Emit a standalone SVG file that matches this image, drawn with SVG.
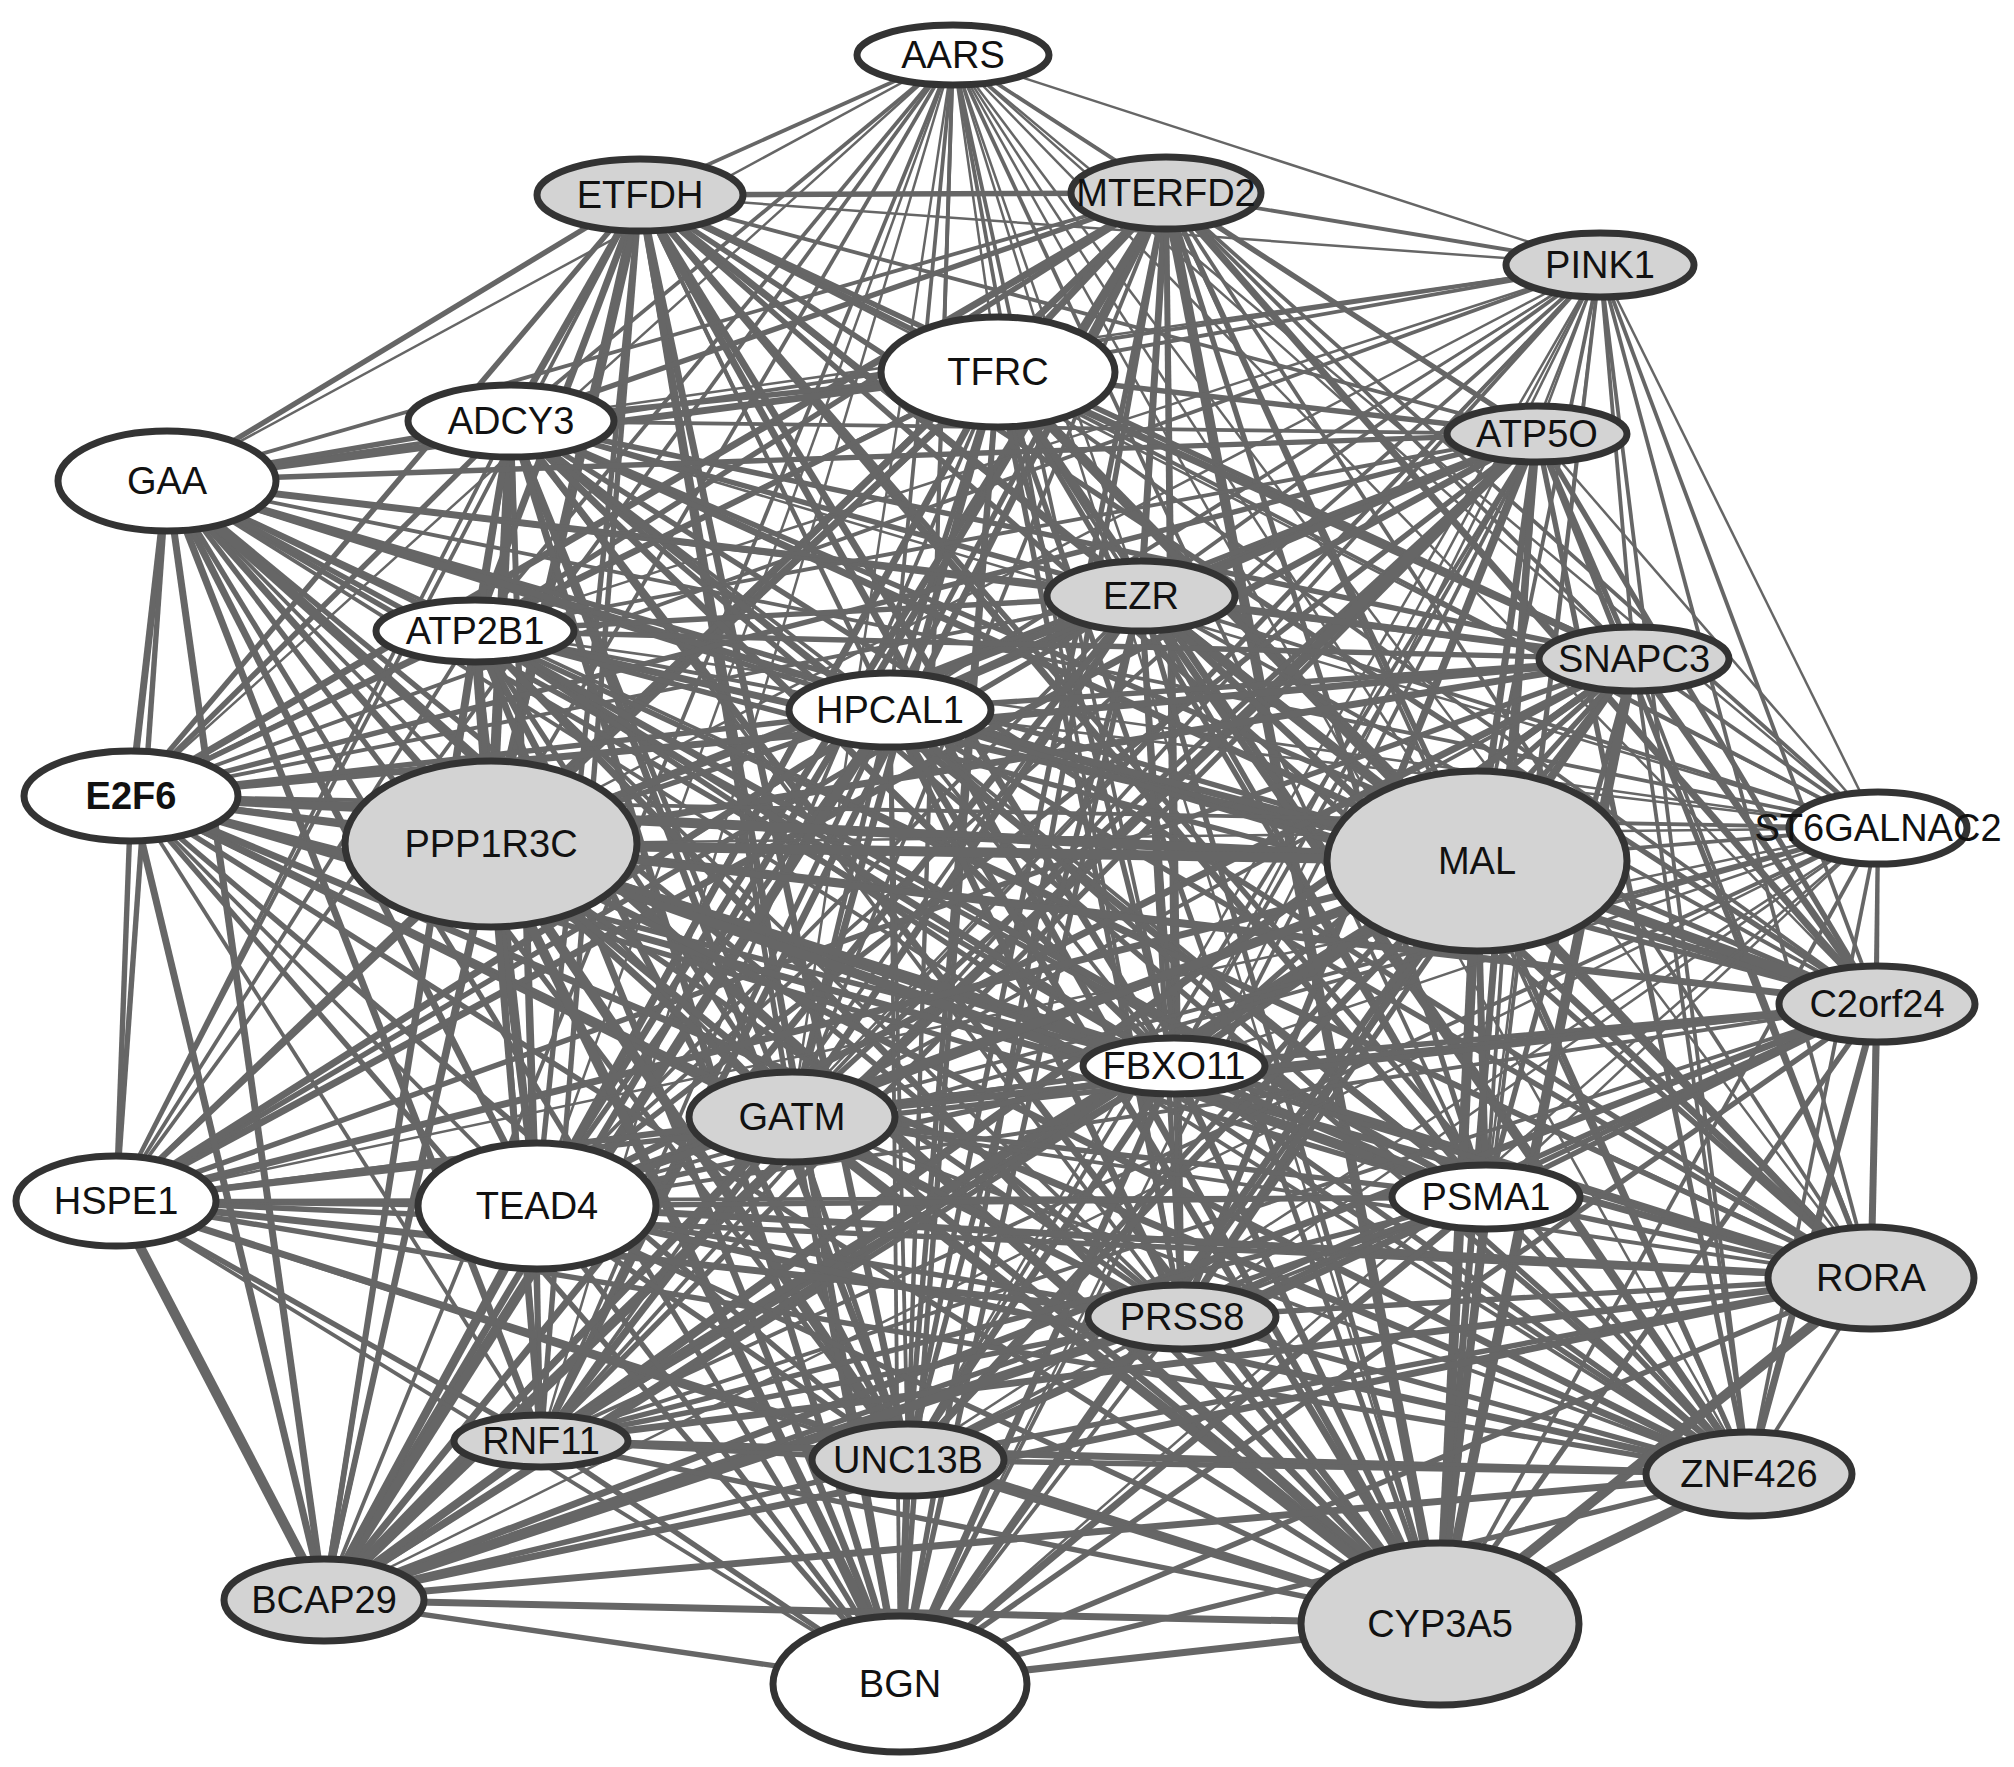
<svg xmlns="http://www.w3.org/2000/svg" width="2014" height="1767" viewBox="0 0 2014 1767">
<style>
#edges path{stroke:#666;fill:none}
.a{stroke-width:2.5}.b{stroke-width:3.8}.c{stroke-width:5.4}.d{stroke-width:7}.e{stroke-width:10}
.node ellipse{stroke:#333;stroke-width:7}
.w ellipse{fill:#fff}.g ellipse{fill:#d3d3d3}
.node text{font-family:"Liberation Sans",Arial,sans-serif;font-size:38px;text-anchor:middle;fill:#111}
</style>
<rect width="2014" height="1767" fill="#fff"/>
<g id="edges">
<path class="b" d="M953 55L640 195"/><path class="a" d="M953 55L1166 193"/><path class="a" d="M953 55L1600 265"/><path class="a" d="M953 55L998 372"/><path class="b" d="M953 55L511 421"/><path class="a" d="M953 55L167 481"/><path class="b" d="M953 55L1537 434"/><path class="a" d="M953 55L1141 596"/><path class="b" d="M953 55L475 631"/><path class="a" d="M953 55L1634 659"/><path class="b" d="M953 55L890 710"/><path class="a" d="M953 55L131 796"/><path class="b" d="M953 55L491 844"/><path class="a" d="M953 55L1477 861"/><path class="a" d="M953 55L1878 828"/><path class="a" d="M953 55L1877 1004"/><path class="b" d="M953 55L1174 1066"/><path class="a" d="M953 55L792 1117"/><path class="b" d="M953 55L116 1201"/><path class="a" d="M953 55L537 1206"/><path class="b" d="M953 55L1486 1197"/><path class="a" d="M953 55L1871 1278"/><path class="b" d="M953 55L1182 1317"/><path class="a" d="M953 55L541 1441"/><path class="b" d="M953 55L908 1460"/><path class="a" d="M953 55L1749 1474"/><path class="b" d="M953 55L324 1600"/><path class="a" d="M953 55L1440 1624"/><path class="b" d="M953 55L900 1684"/>
<path class="c" d="M640 195L1166 193"/><path class="a" d="M640 195L1600 265"/><path class="c" d="M640 195L998 372"/><path class="d" d="M640 195L511 421"/><path class="c" d="M640 195L167 481"/><path class="b" d="M640 195L1537 434"/><path class="c" d="M640 195L1141 596"/><path class="d" d="M640 195L475 631"/><path class="c" d="M640 195L1634 659"/><path class="b" d="M640 195L890 710"/><path class="c" d="M640 195L131 796"/><path class="e" d="M640 195L491 844"/><path class="d" d="M640 195L1477 861"/><path class="a" d="M640 195L1878 828"/><path class="c" d="M640 195L1877 1004"/><path class="d" d="M640 195L1174 1066"/><path class="c" d="M640 195L792 1117"/><path class="b" d="M640 195L116 1201"/><path class="c" d="M640 195L537 1206"/><path class="d" d="M640 195L1486 1197"/><path class="c" d="M640 195L1871 1278"/><path class="b" d="M640 195L1182 1317"/><path class="c" d="M640 195L541 1441"/><path class="d" d="M640 195L908 1460"/><path class="c" d="M640 195L1749 1474"/><path class="c" d="M640 195L324 1600"/><path class="d" d="M640 195L1440 1624"/><path class="d" d="M640 195L900 1684"/>
<path class="b" d="M1166 193L1600 265"/><path class="d" d="M1166 193L998 372"/><path class="c" d="M1166 193L511 421"/><path class="b" d="M1166 193L167 481"/><path class="c" d="M1166 193L1537 434"/><path class="d" d="M1166 193L1141 596"/><path class="c" d="M1166 193L475 631"/><path class="b" d="M1166 193L1634 659"/><path class="c" d="M1166 193L890 710"/><path class="d" d="M1166 193L131 796"/><path class="d" d="M1166 193L491 844"/><path class="c" d="M1166 193L1477 861"/><path class="b" d="M1166 193L1878 828"/><path class="d" d="M1166 193L1877 1004"/><path class="c" d="M1166 193L1174 1066"/><path class="b" d="M1166 193L792 1117"/><path class="c" d="M1166 193L116 1201"/><path class="d" d="M1166 193L537 1206"/><path class="c" d="M1166 193L1486 1197"/><path class="b" d="M1166 193L1871 1278"/><path class="c" d="M1166 193L1182 1317"/><path class="d" d="M1166 193L541 1441"/><path class="c" d="M1166 193L908 1460"/><path class="b" d="M1166 193L1749 1474"/><path class="d" d="M1166 193L324 1600"/><path class="e" d="M1166 193L1440 1624"/><path class="c" d="M1166 193L900 1684"/>
<path class="b" d="M1600 265L998 372"/><path class="a" d="M1600 265L511 421"/><path class="b" d="M1600 265L167 481"/><path class="a" d="M1600 265L1537 434"/><path class="b" d="M1600 265L1141 596"/><path class="a" d="M1600 265L475 631"/><path class="b" d="M1600 265L1634 659"/><path class="a" d="M1600 265L890 710"/><path class="b" d="M1600 265L131 796"/><path class="a" d="M1600 265L491 844"/><path class="b" d="M1600 265L1477 861"/><path class="a" d="M1600 265L1878 828"/><path class="b" d="M1600 265L1877 1004"/><path class="a" d="M1600 265L1174 1066"/><path class="b" d="M1600 265L792 1117"/><path class="a" d="M1600 265L116 1201"/><path class="b" d="M1600 265L537 1206"/><path class="a" d="M1600 265L1486 1197"/><path class="b" d="M1600 265L1871 1278"/><path class="a" d="M1600 265L1182 1317"/><path class="b" d="M1600 265L541 1441"/><path class="a" d="M1600 265L908 1460"/><path class="b" d="M1600 265L1749 1474"/><path class="a" d="M1600 265L324 1600"/><path class="b" d="M1600 265L1440 1624"/><path class="a" d="M1600 265L900 1684"/>
<path class="c" d="M998 372L511 421"/><path class="d" d="M998 372L167 481"/><path class="c" d="M998 372L1537 434"/><path class="b" d="M998 372L1141 596"/><path class="c" d="M998 372L475 631"/><path class="d" d="M998 372L1634 659"/><path class="c" d="M998 372L890 710"/><path class="b" d="M998 372L131 796"/><path class="d" d="M998 372L491 844"/><path class="e" d="M998 372L1477 861"/><path class="b" d="M998 372L1878 828"/><path class="b" d="M998 372L1877 1004"/><path class="c" d="M998 372L1174 1066"/><path class="d" d="M998 372L792 1117"/><path class="c" d="M998 372L116 1201"/><path class="b" d="M998 372L537 1206"/><path class="c" d="M998 372L1486 1197"/><path class="d" d="M998 372L1871 1278"/><path class="c" d="M998 372L1182 1317"/><path class="b" d="M998 372L541 1441"/><path class="c" d="M998 372L908 1460"/><path class="d" d="M998 372L1749 1474"/><path class="d" d="M998 372L324 1600"/><path class="c" d="M998 372L1440 1624"/><path class="c" d="M998 372L900 1684"/>
<path class="c" d="M511 421L167 481"/><path class="b" d="M511 421L1537 434"/><path class="c" d="M511 421L1141 596"/><path class="d" d="M511 421L475 631"/><path class="c" d="M511 421L1634 659"/><path class="b" d="M511 421L890 710"/><path class="c" d="M511 421L131 796"/><path class="e" d="M511 421L491 844"/><path class="d" d="M511 421L1477 861"/><path class="a" d="M511 421L1878 828"/><path class="c" d="M511 421L1877 1004"/><path class="d" d="M511 421L1174 1066"/><path class="c" d="M511 421L792 1117"/><path class="b" d="M511 421L116 1201"/><path class="c" d="M511 421L537 1206"/><path class="d" d="M511 421L1486 1197"/><path class="c" d="M511 421L1871 1278"/><path class="b" d="M511 421L1182 1317"/><path class="c" d="M511 421L541 1441"/><path class="d" d="M511 421L908 1460"/><path class="c" d="M511 421L1749 1474"/><path class="c" d="M511 421L324 1600"/><path class="d" d="M511 421L1440 1624"/><path class="d" d="M511 421L900 1684"/>
<path class="c" d="M167 481L1537 434"/><path class="d" d="M167 481L1141 596"/><path class="c" d="M167 481L475 631"/><path class="b" d="M167 481L1634 659"/><path class="c" d="M167 481L890 710"/><path class="d" d="M167 481L131 796"/><path class="d" d="M167 481L491 844"/><path class="c" d="M167 481L1477 861"/><path class="b" d="M167 481L1878 828"/><path class="d" d="M167 481L1877 1004"/><path class="c" d="M167 481L1174 1066"/><path class="b" d="M167 481L792 1117"/><path class="c" d="M167 481L116 1201"/><path class="d" d="M167 481L537 1206"/><path class="c" d="M167 481L1486 1197"/><path class="b" d="M167 481L1871 1278"/><path class="c" d="M167 481L1182 1317"/><path class="d" d="M167 481L541 1441"/><path class="c" d="M167 481L908 1460"/><path class="b" d="M167 481L1749 1474"/><path class="d" d="M167 481L324 1600"/><path class="e" d="M167 481L1440 1624"/><path class="c" d="M167 481L900 1684"/>
<path class="c" d="M1537 434L1141 596"/><path class="b" d="M1537 434L475 631"/><path class="c" d="M1537 434L1634 659"/><path class="d" d="M1537 434L890 710"/><path class="c" d="M1537 434L131 796"/><path class="c" d="M1537 434L491 844"/><path class="d" d="M1537 434L1477 861"/><path class="a" d="M1537 434L1878 828"/><path class="c" d="M1537 434L1877 1004"/><path class="b" d="M1537 434L1174 1066"/><path class="c" d="M1537 434L792 1117"/><path class="d" d="M1537 434L116 1201"/><path class="c" d="M1537 434L537 1206"/><path class="b" d="M1537 434L1486 1197"/><path class="c" d="M1537 434L1871 1278"/><path class="d" d="M1537 434L1182 1317"/><path class="c" d="M1537 434L541 1441"/><path class="b" d="M1537 434L908 1460"/><path class="c" d="M1537 434L1749 1474"/><path class="e" d="M1537 434L324 1600"/><path class="d" d="M1537 434L1440 1624"/><path class="b" d="M1537 434L900 1684"/>
<path class="c" d="M1141 596L475 631"/><path class="d" d="M1141 596L1634 659"/><path class="c" d="M1141 596L890 710"/><path class="b" d="M1141 596L131 796"/><path class="d" d="M1141 596L491 844"/><path class="e" d="M1141 596L1477 861"/><path class="b" d="M1141 596L1878 828"/><path class="b" d="M1141 596L1877 1004"/><path class="c" d="M1141 596L1174 1066"/><path class="d" d="M1141 596L792 1117"/><path class="c" d="M1141 596L116 1201"/><path class="b" d="M1141 596L537 1206"/><path class="c" d="M1141 596L1486 1197"/><path class="d" d="M1141 596L1871 1278"/><path class="c" d="M1141 596L1182 1317"/><path class="b" d="M1141 596L541 1441"/><path class="c" d="M1141 596L908 1460"/><path class="d" d="M1141 596L1749 1474"/><path class="d" d="M1141 596L324 1600"/><path class="c" d="M1141 596L1440 1624"/><path class="c" d="M1141 596L900 1684"/>
<path class="c" d="M475 631L1634 659"/><path class="b" d="M475 631L890 710"/><path class="c" d="M475 631L131 796"/><path class="e" d="M475 631L491 844"/><path class="d" d="M475 631L1477 861"/><path class="a" d="M475 631L1878 828"/><path class="c" d="M475 631L1877 1004"/><path class="d" d="M475 631L1174 1066"/><path class="c" d="M475 631L792 1117"/><path class="b" d="M475 631L116 1201"/><path class="c" d="M475 631L537 1206"/><path class="d" d="M475 631L1486 1197"/><path class="c" d="M475 631L1871 1278"/><path class="b" d="M475 631L1182 1317"/><path class="c" d="M475 631L541 1441"/><path class="d" d="M475 631L908 1460"/><path class="c" d="M475 631L1749 1474"/><path class="c" d="M475 631L324 1600"/><path class="d" d="M475 631L1440 1624"/><path class="d" d="M475 631L900 1684"/>
<path class="c" d="M1634 659L890 710"/><path class="d" d="M1634 659L131 796"/><path class="d" d="M1634 659L491 844"/><path class="c" d="M1634 659L1477 861"/><path class="b" d="M1634 659L1878 828"/><path class="d" d="M1634 659L1877 1004"/><path class="c" d="M1634 659L1174 1066"/><path class="b" d="M1634 659L792 1117"/><path class="c" d="M1634 659L116 1201"/><path class="d" d="M1634 659L537 1206"/><path class="c" d="M1634 659L1486 1197"/><path class="b" d="M1634 659L1871 1278"/><path class="c" d="M1634 659L1182 1317"/><path class="d" d="M1634 659L541 1441"/><path class="c" d="M1634 659L908 1460"/><path class="b" d="M1634 659L1749 1474"/><path class="d" d="M1634 659L324 1600"/><path class="e" d="M1634 659L1440 1624"/><path class="c" d="M1634 659L900 1684"/>
<path class="c" d="M890 710L131 796"/><path class="c" d="M890 710L491 844"/><path class="d" d="M890 710L1477 861"/><path class="a" d="M890 710L1878 828"/><path class="c" d="M890 710L1877 1004"/><path class="b" d="M890 710L1174 1066"/><path class="c" d="M890 710L792 1117"/><path class="d" d="M890 710L116 1201"/><path class="c" d="M890 710L537 1206"/><path class="b" d="M890 710L1486 1197"/><path class="c" d="M890 710L1871 1278"/><path class="d" d="M890 710L1182 1317"/><path class="c" d="M890 710L541 1441"/><path class="b" d="M890 710L908 1460"/><path class="c" d="M890 710L1749 1474"/><path class="e" d="M890 710L324 1600"/><path class="d" d="M890 710L1440 1624"/><path class="b" d="M890 710L900 1684"/>
<path class="d" d="M131 796L491 844"/><path class="e" d="M131 796L1477 861"/><path class="b" d="M131 796L1878 828"/><path class="b" d="M131 796L1877 1004"/><path class="c" d="M131 796L1174 1066"/><path class="d" d="M131 796L792 1117"/><path class="c" d="M131 796L116 1201"/><path class="b" d="M131 796L537 1206"/><path class="c" d="M131 796L1486 1197"/><path class="d" d="M131 796L1871 1278"/><path class="c" d="M131 796L1182 1317"/><path class="b" d="M131 796L541 1441"/><path class="c" d="M131 796L908 1460"/><path class="d" d="M131 796L1749 1474"/><path class="d" d="M131 796L324 1600"/><path class="c" d="M131 796L1440 1624"/><path class="c" d="M131 796L900 1684"/>
<path class="e" d="M491 844L1477 861"/><path class="a" d="M491 844L1878 828"/><path class="d" d="M491 844L1877 1004"/><path class="e" d="M491 844L1174 1066"/><path class="d" d="M491 844L792 1117"/><path class="c" d="M491 844L116 1201"/><path class="d" d="M491 844L537 1206"/><path class="e" d="M491 844L1486 1197"/><path class="d" d="M491 844L1871 1278"/><path class="c" d="M491 844L1182 1317"/><path class="d" d="M491 844L541 1441"/><path class="e" d="M491 844L908 1460"/><path class="d" d="M491 844L1749 1474"/><path class="c" d="M491 844L324 1600"/><path class="d" d="M491 844L1440 1624"/><path class="e" d="M491 844L900 1684"/>
<path class="b" d="M1477 861L1878 828"/><path class="e" d="M1477 861L1877 1004"/><path class="d" d="M1477 861L1174 1066"/><path class="c" d="M1477 861L792 1117"/><path class="d" d="M1477 861L116 1201"/><path class="e" d="M1477 861L537 1206"/><path class="d" d="M1477 861L1486 1197"/><path class="c" d="M1477 861L1871 1278"/><path class="d" d="M1477 861L1182 1317"/><path class="e" d="M1477 861L541 1441"/><path class="d" d="M1477 861L908 1460"/><path class="c" d="M1477 861L1749 1474"/><path class="d" d="M1477 861L324 1600"/><path class="e" d="M1477 861L1440 1624"/><path class="d" d="M1477 861L900 1684"/>
<path class="b" d="M1878 828L1877 1004"/><path class="a" d="M1878 828L1174 1066"/><path class="b" d="M1878 828L792 1117"/><path class="a" d="M1878 828L116 1201"/><path class="b" d="M1878 828L537 1206"/><path class="a" d="M1878 828L1486 1197"/><path class="b" d="M1878 828L1871 1278"/><path class="a" d="M1878 828L1182 1317"/><path class="b" d="M1878 828L541 1441"/><path class="a" d="M1878 828L908 1460"/><path class="b" d="M1878 828L1749 1474"/><path class="a" d="M1878 828L324 1600"/><path class="b" d="M1878 828L1440 1624"/><path class="a" d="M1878 828L900 1684"/>
<path class="c" d="M1877 1004L1174 1066"/><path class="d" d="M1877 1004L792 1117"/><path class="c" d="M1877 1004L116 1201"/><path class="b" d="M1877 1004L537 1206"/><path class="c" d="M1877 1004L1486 1197"/><path class="d" d="M1877 1004L1871 1278"/><path class="c" d="M1877 1004L1182 1317"/><path class="b" d="M1877 1004L541 1441"/><path class="c" d="M1877 1004L908 1460"/><path class="d" d="M1877 1004L1749 1474"/><path class="d" d="M1877 1004L324 1600"/><path class="c" d="M1877 1004L1440 1624"/><path class="c" d="M1877 1004L900 1684"/>
<path class="c" d="M1174 1066L792 1117"/><path class="b" d="M1174 1066L116 1201"/><path class="c" d="M1174 1066L537 1206"/><path class="d" d="M1174 1066L1486 1197"/><path class="c" d="M1174 1066L1871 1278"/><path class="b" d="M1174 1066L1182 1317"/><path class="c" d="M1174 1066L541 1441"/><path class="d" d="M1174 1066L908 1460"/><path class="c" d="M1174 1066L1749 1474"/><path class="c" d="M1174 1066L324 1600"/><path class="d" d="M1174 1066L1440 1624"/><path class="d" d="M1174 1066L900 1684"/>
<path class="c" d="M792 1117L116 1201"/><path class="d" d="M792 1117L537 1206"/><path class="c" d="M792 1117L1486 1197"/><path class="b" d="M792 1117L1871 1278"/><path class="c" d="M792 1117L1182 1317"/><path class="d" d="M792 1117L541 1441"/><path class="c" d="M792 1117L908 1460"/><path class="b" d="M792 1117L1749 1474"/><path class="d" d="M792 1117L324 1600"/><path class="e" d="M792 1117L1440 1624"/><path class="c" d="M792 1117L900 1684"/>
<path class="c" d="M116 1201L537 1206"/><path class="b" d="M116 1201L1486 1197"/><path class="c" d="M116 1201L1871 1278"/><path class="d" d="M116 1201L1182 1317"/><path class="c" d="M116 1201L541 1441"/><path class="b" d="M116 1201L908 1460"/><path class="c" d="M116 1201L1749 1474"/><path class="e" d="M116 1201L324 1600"/><path class="d" d="M116 1201L1440 1624"/><path class="b" d="M116 1201L900 1684"/>
<path class="c" d="M537 1206L1486 1197"/><path class="d" d="M537 1206L1871 1278"/><path class="c" d="M537 1206L1182 1317"/><path class="b" d="M537 1206L541 1441"/><path class="c" d="M537 1206L908 1460"/><path class="d" d="M537 1206L1749 1474"/><path class="d" d="M537 1206L324 1600"/><path class="c" d="M537 1206L1440 1624"/><path class="c" d="M537 1206L900 1684"/>
<path class="c" d="M1486 1197L1871 1278"/><path class="b" d="M1486 1197L1182 1317"/><path class="c" d="M1486 1197L541 1441"/><path class="d" d="M1486 1197L908 1460"/><path class="c" d="M1486 1197L1749 1474"/><path class="c" d="M1486 1197L324 1600"/><path class="d" d="M1486 1197L1440 1624"/><path class="d" d="M1486 1197L900 1684"/>
<path class="c" d="M1871 1278L1182 1317"/><path class="d" d="M1871 1278L541 1441"/><path class="c" d="M1871 1278L908 1460"/><path class="b" d="M1871 1278L1749 1474"/><path class="d" d="M1871 1278L324 1600"/><path class="e" d="M1871 1278L1440 1624"/><path class="c" d="M1871 1278L900 1684"/>
<path class="c" d="M1182 1317L541 1441"/><path class="b" d="M1182 1317L908 1460"/><path class="c" d="M1182 1317L1749 1474"/><path class="e" d="M1182 1317L324 1600"/><path class="d" d="M1182 1317L1440 1624"/><path class="b" d="M1182 1317L900 1684"/>
<path class="c" d="M541 1441L908 1460"/><path class="d" d="M541 1441L1749 1474"/><path class="d" d="M541 1441L324 1600"/><path class="c" d="M541 1441L1440 1624"/><path class="c" d="M541 1441L900 1684"/>
<path class="c" d="M908 1460L1749 1474"/><path class="c" d="M908 1460L324 1600"/><path class="d" d="M908 1460L1440 1624"/><path class="d" d="M908 1460L900 1684"/>
<path class="d" d="M1749 1474L324 1600"/><path class="e" d="M1749 1474L1440 1624"/><path class="c" d="M1749 1474L900 1684"/>
<path class="d" d="M324 1600L1440 1624"/><path class="c" d="M324 1600L900 1684"/>
<path class="d" d="M1440 1624L900 1684"/>
</g>
<g id="AARS" class="node w"><ellipse cx="953" cy="55" rx="96" ry="30"/><text x="953" y="68">AARS</text></g>
<g id="ETFDH" class="node g"><ellipse cx="640" cy="195" rx="103" ry="36"/><text x="640" y="208">ETFDH</text></g>
<g id="MTERFD2" class="node g"><ellipse cx="1166" cy="193" rx="95" ry="36"/><text x="1166" y="206">MTERFD2</text></g>
<g id="PINK1" class="node g"><ellipse cx="1600" cy="265" rx="94" ry="32"/><text x="1600" y="278">PINK1</text></g>
<g id="TFRC" class="node w"><ellipse cx="998" cy="372" rx="117" ry="55"/><text x="998" y="385">TFRC</text></g>
<g id="ADCY3" class="node w"><ellipse cx="511" cy="421" rx="103" ry="36"/><text x="511" y="434">ADCY3</text></g>
<g id="GAA" class="node w"><ellipse cx="167" cy="481" rx="109" ry="50"/><text x="167" y="494">GAA</text></g>
<g id="ATP5O" class="node g"><ellipse cx="1537" cy="434" rx="90" ry="28"/><text x="1537" y="447">ATP5O</text></g>
<g id="EZR" class="node g"><ellipse cx="1141" cy="596" rx="94" ry="35"/><text x="1141" y="609">EZR</text></g>
<g id="ATP2B1" class="node w"><ellipse cx="475" cy="631" rx="99" ry="31"/><text x="475" y="644">ATP2B1</text></g>
<g id="SNAPC3" class="node g"><ellipse cx="1634" cy="659" rx="95" ry="32"/><text x="1634" y="672">SNAPC3</text></g>
<g id="HPCAL1" class="node w"><ellipse cx="890" cy="710" rx="101" ry="37"/><text x="890" y="723">HPCAL1</text></g>
<g id="E2F6" class="node w"><ellipse cx="131" cy="796" rx="107" ry="45"/><text x="131" y="809" font-weight="bold">E2F6</text></g>
<g id="PPP1R3C" class="node g"><ellipse cx="491" cy="844" rx="146" ry="83"/><text x="491" y="857">PPP1R3C</text></g>
<g id="MAL" class="node g"><ellipse cx="1477" cy="861" rx="150" ry="90"/><text x="1477" y="874">MAL</text></g>
<g id="ST6GALNAC2" class="node w"><ellipse cx="1878" cy="828" rx="89" ry="36"/><text x="1878" y="841">ST6GALNAC2</text></g>
<g id="C2orf24" class="node g"><ellipse cx="1877" cy="1004" rx="98" ry="38"/><text x="1877" y="1017">C2orf24</text></g>
<g id="FBXO11" class="node w"><ellipse cx="1174" cy="1066" rx="91" ry="28"/><text x="1174" y="1079">FBXO11</text></g>
<g id="GATM" class="node g"><ellipse cx="792" cy="1117" rx="103" ry="45"/><text x="792" y="1130">GATM</text></g>
<g id="HSPE1" class="node w"><ellipse cx="116" cy="1201" rx="100" ry="45"/><text x="116" y="1214">HSPE1</text></g>
<g id="TEAD4" class="node w"><ellipse cx="537" cy="1206" rx="119" ry="63"/><text x="537" y="1219">TEAD4</text></g>
<g id="PSMA1" class="node w"><ellipse cx="1486" cy="1197" rx="94" ry="32"/><text x="1486" y="1210">PSMA1</text></g>
<g id="RORA" class="node g"><ellipse cx="1871" cy="1278" rx="103" ry="51"/><text x="1871" y="1291">RORA</text></g>
<g id="PRSS8" class="node g"><ellipse cx="1182" cy="1317" rx="94" ry="32"/><text x="1182" y="1330">PRSS8</text></g>
<g id="RNF11" class="node g"><ellipse cx="541" cy="1441" rx="87" ry="26"/><text x="541" y="1454">RNF11</text></g>
<g id="UNC13B" class="node g"><ellipse cx="908" cy="1460" rx="96" ry="36"/><text x="908" y="1473">UNC13B</text></g>
<g id="ZNF426" class="node g"><ellipse cx="1749" cy="1474" rx="103" ry="42"/><text x="1749" y="1487">ZNF426</text></g>
<g id="BCAP29" class="node g"><ellipse cx="324" cy="1600" rx="100" ry="41"/><text x="324" y="1613">BCAP29</text></g>
<g id="CYP3A5" class="node g"><ellipse cx="1440" cy="1624" rx="139" ry="81"/><text x="1440" y="1637">CYP3A5</text></g>
<g id="BGN" class="node w"><ellipse cx="900" cy="1684" rx="127" ry="68"/><text x="900" y="1697">BGN</text></g>
</svg>
